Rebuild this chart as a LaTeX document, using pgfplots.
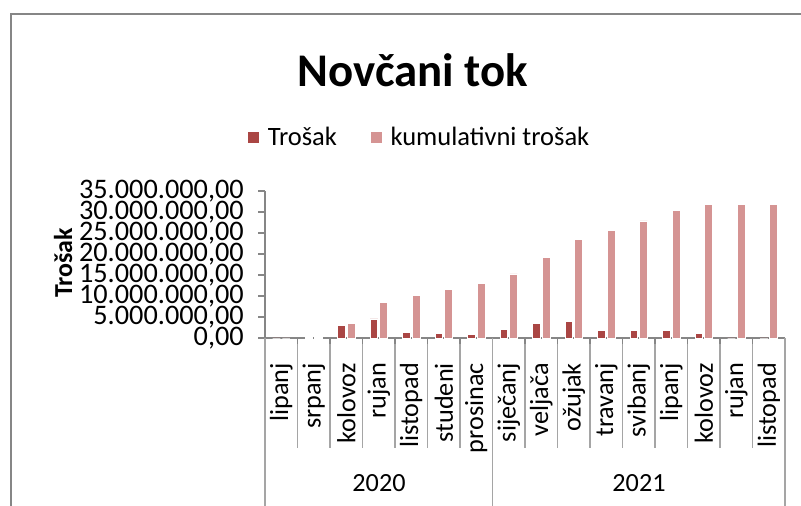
\documentclass[border=0pt]{standalone}
\usepackage{fontspec}
\setmainfont{Carlito}
\usepackage{pgfplots}
\pgfplotsset{compat=1.18}
\definecolor{tros}{RGB}{170,70,68}
\definecolor{kum}{RGB}{213,148,147}
\definecolor{axgray}{RGB}{134,134,134}
\definecolor{sepgray}{RGB}{165,165,165}
\pgfplotsset{sqlegend/.style={legend image code/.code={\fill[##1] (0bp,-6bp) rectangle (12bp,6bp);}}}
\begin{document}
\begin{tikzpicture}[x=1bp,y=1bp]
\useasboundingbox (0,0) rectangle (801,506);
\draw[axgray, line width=2bp] (10.5,0) -- (10.5,492) -- (801,492);
\node[font=\fontsize{47}{50}\selectfont\bfseries] at (413,436) {Novčani tok};
\begin{axis}[
  at={(265bp,168bp)}, anchor=south west,
  scale only axis, width=520bp, height=147bp,
  xmin=-0.5, xmax=15.5, ymin=0, ymax=35000000,
  axis lines*=left,
  axis line style={axgray, line width=1.6bp},
  xtick={0,...,15},
  xticklabels={lipanj,srpanj,kolovoz,rujan,listopad,studeni,prosinac,siječanj,veljača,ožujak,travanj,svibanj,lipanj,kolovoz,rujan,listopad},
  x tick style={draw=none},
  xticklabel style={rotate=90, anchor=east, inner ysep=0pt, inner xsep=18bp, font=\fontsize{26.3}{26.3}\selectfont},
  ytick={0,5000000,10000000,15000000,20000000,25000000,30000000,35000000},
  y tick style={axgray, line width=1.2bp},
  tick align=outside, major tick length=7bp,
  scaled y ticks=false,
  yticklabel style={/pgf/number format/fixed, /pgf/number format/fixed zerofill, /pgf/number format/precision=2, /pgf/number format/use comma, /pgf/number format/1000 sep={.}, /pgf/number format/assume math mode=true, font=\fontsize{28.4}{28.4}\selectfont, inner sep=0pt, xshift=-14bp},
  ylabel={Trošak},
  ylabel style={at={(rel axis cs:-0.388,0.51)}, anchor=center, font=\fontsize{26}{26}\selectfont\bfseries},
  legend style={at={(rel axis cs:-0.0346,1.367)}, anchor=west, draw=none, fill=none, inner sep=0pt, legend columns=2, font=\fontsize{26.6}{26.6}\selectfont, /tikz/every odd column/.append style={column sep=6bp}, /tikz/every even column/.append style={column sep=31bp}},
  clip=false,
]
\addplot[ybar, bar width=7.6bp, bar shift=-4.8bp, fill=tros, draw=white, line width=0.6bp, sqlegend] coordinates {
(0,0) (1,50000) (2,2940000) (3,4530000) (4,1270000) (5,1030000) (6,870000) (7,1990000)
(8,3500000) (9,3900000) (10,1750000) (11,1900000) (12,1900000) (13,1100000) (14,0) (15,0)};
\addlegendentry{Trošak}
\addplot[ybar, bar width=7.6bp, bar shift=4.8bp, fill=kum, draw=white, line width=0.6bp, sqlegend] coordinates {
(0,0) (1,50000) (2,3500000) (3,8500000) (4,10170000) (5,11600000) (6,12960000) (7,15260000)
(8,19160000) (9,23450000) (10,25600000) (11,27900000) (12,30290000) (13,31720000) (14,31720000) (15,31720000)};
\addlegendentry{kumulativni trošak}
\end{axis}
\foreach \k in {1,...,6,8,9,...,15}{
  \draw[sepgray, line width=1.2bp] ({265+32.5*\k},168) -- ({265+32.5*\k},58);
  \draw[axgray, line width=1.2bp] ({265+32.5*\k},168) -- ({265+32.5*\k},162);
}
\foreach \k in {0,7,16}{
  \draw[sepgray, line width=1.2bp] ({265+32.5*\k},168) -- ({265+32.5*\k},0);
}
\node[font=\fontsize{26.3}{26.3}\selectfont] at (379,23) {2020};
\node[font=\fontsize{26.3}{26.3}\selectfont] at (639,23) {2021};
\end{tikzpicture}
\end{document}
